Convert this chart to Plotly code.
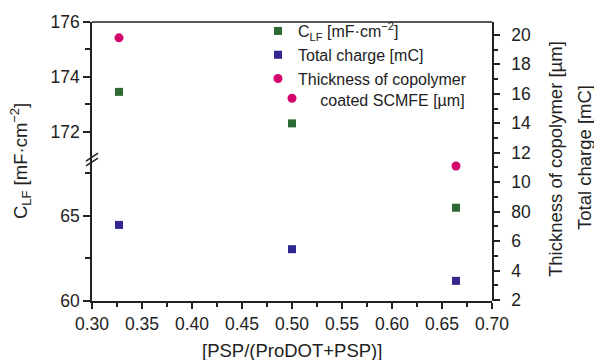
import plotly.graph_objects as go

# ---- data ----
ratio = [0.327, 0.500, 0.664]
c_lf = [173.45, 172.30, 65.46]          # mF·cm^-2 (broken left axis)
total_charge = [7.1, 5.45, 3.3]          # read on right axis scale
thickness = [19.8, 15.7, 11.1]           # µm
x_ticks = [0.30, 0.35, 0.40, 0.45, 0.50, 0.55, 0.60, 0.65, 0.70]
right_tickvals = [2, 4, 6, 8, 10, 12, 14, 16, 18, 20]
right_ticktext = ["2", "4", "6", "80", "10", "12", "14", "16", "18", "20"]

GREEN = "#2e6a33"
BLUE = "#2f2690"
PINK = "#d4066e"
INK = "#222222"
FONT = "Liberation Sans, Arial, sans-serif"
TICK_SIZE = 17.5
TITLE_SIZE = 18.5
LEG_SIZE = 16

# plot area in pixels
L, R, T, B = 92, 492, 20, 301
W, H = 594, 360
PW, PH = R - L, B - T
BREAK_Y = 157
f = (B - BREAK_Y) / PH

def px(xp):
    return (xp - L) / PW

def py(yp):
    return (B - yp) / PH

top_x = [x for x, v in zip(ratio, c_lf) if v > 100]
top_y = [v for v in c_lf if v > 100]
bot_x = [x for x, v in zip(ratio, c_lf) if v <= 100]
bot_y = [v for v in c_lf if v <= 100]

fig = go.Figure()
fig.add_trace(go.Scatter(x=top_x, y=top_y, xaxis="x", yaxis="y2", mode="markers",
                         marker=dict(symbol="square", size=8, color=GREEN),
                         name="C<sub>LF</sub> [mF·cm<sup>−2</sup>]", legendgroup="g", legendrank=1))
fig.add_trace(go.Scatter(x=bot_x, y=bot_y, xaxis="x", yaxis="y", mode="markers",
                         marker=dict(symbol="square", size=8, color=GREEN),
                         name="C_LF", legendgroup="g", showlegend=False))
fig.add_trace(go.Scatter(x=ratio, y=total_charge, xaxis="x2", yaxis="y3", mode="markers",
                         marker=dict(symbol="square", size=8, color=BLUE),
                         name="Total charge [mC]", legendrank=2))
fig.add_trace(go.Scatter(x=ratio, y=thickness, xaxis="x2", yaxis="y3", mode="markers",
                         marker=dict(symbol="circle", size=9, color=PINK),
                         name="Thickness of copolymer<br>" + "\u00a0" * 5 + "coated SCMFE [µm]",
                         legendrank=3))

axis_common = dict(showline=True, linecolor=INK, linewidth=1.5, ticks="outside",
                   tickcolor=INK, tickwidth=1.5, showgrid=False, zeroline=False,
                   tickfont=dict(family=FONT, size=TICK_SIZE, color=INK))

fig.update_layout(
    width=W, height=H,
    margin=dict(l=L, r=W - R, t=T, b=H - B),
    paper_bgcolor="white", plot_bgcolor="rgba(0,0,0,0)",
    font=dict(family=FONT, size=15, color=INK),
    xaxis=dict(domain=[0, 1], range=[0.30, 0.70], tickvals=x_ticks, tickformat=".2f",
               ticklen=6, anchor="y",
               minor=dict(dtick=0.025, tick0=0.30, ticks="outside", ticklen=4,
                          tickcolor=INK, tickwidth=1.5),
               **axis_common),
    xaxis2=dict(domain=[0, 1], range=[0.30, 0.70], visible=False, anchor="y3",
                overlaying="x"),
    yaxis=dict(domain=[0, f], range=[60, 60 + (B - BREAK_Y) / 17.2],
               tickvals=[60, 65], ticklen=7, anchor="x",
               minor=dict(tickvals=[62.5, 67.5], ticks="outside", ticklen=5,
                          tickcolor=INK, tickwidth=1.5),
               **axis_common),
    yaxis2=dict(domain=[f, 1], range=[176 - (BREAK_Y - T) / 27.6, 176],
                tickvals=[172, 174, 176], ticklen=7, anchor="x",
                minor=dict(tickvals=[173, 175], ticks="outside", ticklen=5,
                           tickcolor=INK, tickwidth=1.5),
                **axis_common),
    yaxis3=dict(domain=[0, 1], range=[2 - 1 / 14.83, 20 + 13 / 14.83], side="right",
                anchor="x2", tickvals=right_tickvals, ticktext=right_ticktext,
                ticklen=6, ticklabelstandoff=8,
                minor=dict(tickvals=[3, 5, 7, 9, 11, 13, 15, 17, 19], ticks="outside",
                           ticklen=4, tickcolor=INK, tickwidth=1.5),
                **axis_common),
    legend=dict(x=px(258), y=py(12), xanchor="left", yanchor="top",
                bgcolor="rgba(0,0,0,0)", font=dict(family=FONT, size=LEG_SIZE, color=INK),
                tracegroupgap=0, itemwidth=30, valign="top", traceorder="normal"),
    showlegend=True,
)

# top border line
fig.add_shape(type="line", xref="paper", yref="paper", x0=0, x1=1, y0=1, y1=1,
              line=dict(color=INK, width=1.5))
# axis break marks
for dy in (0, 5):
    fig.add_shape(type="line", xref="paper", yref="paper",
                  x0=px(86), x1=px(98), y0=py(BREAK_Y + 6 - dy + 2), y1=py(BREAK_Y - 2 - dy + 2),
                  line=dict(color=INK, width=1.5))

# axis titles
fig.add_annotation(text="C<sub>LF</sub> [mF·cm<sup>−2</sup>]", xref="paper", yref="paper",
                   x=px(20), y=py(160), textangle=-90, showarrow=False,
                   xanchor="center", yanchor="middle", font=dict(family=FONT, size=TITLE_SIZE, color=INK))
fig.add_annotation(text="Thickness of copolymer [µm]", xref="paper", yref="paper",
                   x=px(555), y=py(158), textangle=-90, showarrow=False,
                   xanchor="center", yanchor="middle", font=dict(family=FONT, size=TITLE_SIZE, color=INK))
fig.add_annotation(text="Total charge [mC]", xref="paper", yref="paper",
                   x=px(584), y=py(157), textangle=-90, showarrow=False,
                   xanchor="center", yanchor="middle", font=dict(family=FONT, size=TITLE_SIZE, color=INK))
fig.add_annotation(text="[PSP/(ProDOT+PSP)]", xref="paper", yref="paper",
                   x=0.5, y=py(351), showarrow=False,
                   xanchor="center", yanchor="middle", font=dict(family=FONT, size=TITLE_SIZE, color=INK))

fig.write_html("out.html")
